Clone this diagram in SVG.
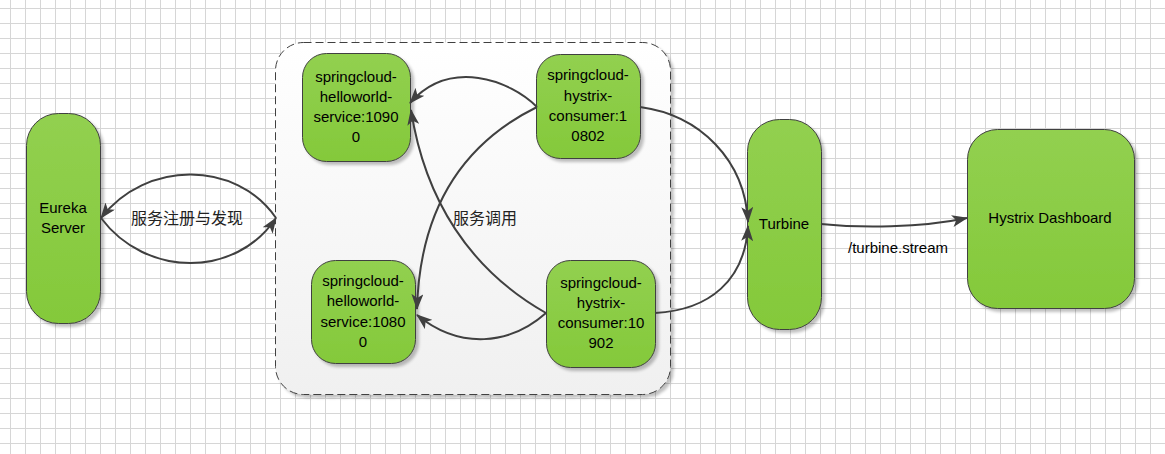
<svg xmlns="http://www.w3.org/2000/svg" width="1165" height="454" viewBox="0 0 1165 454">
  <defs>
    <pattern id="grid" x="10" y="8" width="15" height="15" patternUnits="userSpaceOnUse">
      <path d="M0.5,0 V15 M0,0.5 H15" fill="none" stroke="#d6d6d6" stroke-width="1"/>
    </pattern>
    <linearGradient id="green" x1="0" y1="0" x2="0" y2="1">
      <stop offset="0" stop-color="#92d050"/>
      <stop offset="1" stop-color="#84c93a"/>
    </linearGradient>
    <linearGradient id="panel" x1="0" y1="0" x2="0" y2="1">
      <stop offset="0" stop-color="#ffffff"/>
      <stop offset="1" stop-color="#f0f0f0"/>
    </linearGradient>
    <filter id="shadow" x="-20%" y="-20%" width="140%" height="140%">
      <feGaussianBlur in="SourceAlpha" stdDeviation="1.5"/>
      <feOffset dx="3" dy="3" result="b"/>
      <feComponentTransfer><feFuncA type="linear" slope="0.25"/></feComponentTransfer>
      <feMerge><feMergeNode/><feMergeNode in="SourceGraphic"/></feMerge>
    </filter>
    <marker id="arrow" viewBox="0 0 16 12" refX="15" refY="6" markerWidth="16" markerHeight="12" markerUnits="userSpaceOnUse" orient="auto">
      <path d="M0,0 L16,6 L0,12 L4,6 Z" fill="#404040"/>
    </marker>
    <style>
      .node { fill: url(#green); stroke: #404040; stroke-width: 1; filter: url(#shadow); }
      .lbl { font-family: "Liberation Sans", Arial, sans-serif; font-size: 15px; fill: #000; text-anchor: middle; }
      .cn { font-family: "Noto Sans CJK SC", sans-serif; font-size: 16px; fill: #222; text-anchor: middle; }
      .edge { fill: none; stroke: #404040; stroke-width: 2; marker-end: url(#arrow); }
    </style>
  </defs>

  <rect x="0" y="0" width="1165" height="454" fill="#ffffff"/>
  <rect x="0" y="0" width="1165" height="454" fill="url(#grid)"/>

  <g id="container">
    <rect x="275.5" y="42.5" width="395" height="352" rx="28" ry="28" fill="url(#panel)" stroke="#404040" stroke-width="1" stroke-dasharray="8,4" filter="url(#shadow)"/>
  </g>

  <g id="eureka">
    <rect class="node" x="26.5" y="113.5" width="74" height="210" rx="32" ry="32"/>
    <text class="lbl"><tspan x="63" y="213">Eureka</tspan><tspan x="63" y="233">Server</tspan></text>
  </g>

  <g id="hello10900">
    <rect class="node" x="302.5" y="53.5" width="108" height="108" rx="24" ry="24"/>
    <text class="lbl"><tspan x="356" y="82">springcloud-</tspan><tspan x="356" y="102">helloworld-</tspan><tspan x="356" y="122">service:1090</tspan><tspan x="356" y="142">0</tspan></text>
  </g>

  <g id="hello10800">
    <rect class="node" x="311.5" y="260.5" width="104" height="103" rx="24" ry="24"/>
    <text class="lbl"><tspan x="363" y="286">springcloud-</tspan><tspan x="363" y="306">helloworld-</tspan><tspan x="363" y="327">service:1080</tspan><tspan x="363" y="347">0</tspan></text>
  </g>

  <g id="consumer10802">
    <rect class="node" x="536.5" y="54.5" width="104" height="104" rx="24" ry="24"/>
    <text class="lbl"><tspan x="588" y="80">springcloud-</tspan><tspan x="588" y="101">hystrix-</tspan><tspan x="588" y="121">consumer:1</tspan><tspan x="588" y="141">0802</tspan></text>
  </g>

  <g id="consumer10902">
    <rect class="node" x="546.5" y="260.5" width="109" height="107" rx="24" ry="24"/>
    <text class="lbl"><tspan x="601" y="288">springcloud-</tspan><tspan x="601" y="308">hystrix-</tspan><tspan x="601" y="328">consumer:10</tspan><tspan x="601" y="348">902</tspan></text>
  </g>

  <g id="turbine">
    <rect class="node" x="747.5" y="119.5" width="74" height="210" rx="32" ry="32"/>
    <text class="lbl" x="784" y="229">Turbine</text>
  </g>

  <g id="dashboard">
    <rect class="node" x="967.5" y="129.5" width="167" height="179" rx="30" ry="30"/>
    <text class="lbl" x="1050" y="223">Hystrix Dashboard</text>
  </g>

  <g id="connectors">
    <path class="edge" d="M276,218 C236,160 146,160 101,218"/>
    <path class="edge" d="M101,218 C146,278 236,278 276,218"/>
    <path class="edge" d="M537,107 C510,80 450,58 410,103"/>
    <path class="edge" d="M537,107 C470,140 420,200 417,309"/>
    <path class="edge" d="M546,313 C470,270 425,200 411,110"/>
    <path class="edge" d="M546,313 C510,345 460,350 417,315"/>
    <path class="edge" d="M640,107 C700,115 745,160 748,222"/>
    <path class="edge" d="M655,313 C710,310 745,280 748,226"/>
    <path class="edge" d="M821,224 C860,228 920,228 967,218"/>
  </g>

  <g id="labels">
    <text class="cn" x="187" y="224">服务注册与发现</text>
    <text class="cn" x="485" y="224">服务调用</text>
    <text class="lbl" x="898" y="253">/turbine.stream</text>
  </g>
</svg>
